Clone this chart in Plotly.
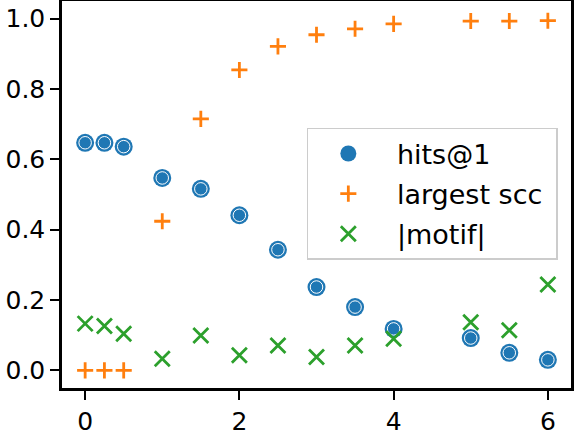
import plotly.graph_objects as go

x_vals = [0, 0.25, 0.5, 1.0, 1.5, 2.0, 2.5, 3.0, 3.5, 4.0, 5.0, 5.5, 6.0]
hits_at_1 = [0.647, 0.647, 0.636, 0.547, 0.516, 0.441, 0.343, 0.237, 0.180, 0.118, 0.092, 0.050, 0.030]
largest_scc = [0.0, 0.0, 0.0, 0.424, 0.715, 0.854, 0.921, 0.954, 0.971, 0.985, 0.993, 0.993, 0.994]
motif_size = [0.133, 0.126, 0.104, 0.033, 0.099, 0.043, 0.071, 0.038, 0.071, 0.090, 0.137, 0.114, 0.244]
x_ticks = [0, 2, 4, 6]
y_ticks = [0.0, 0.2, 0.4, 0.6, 0.8, 1.0]
y_tick_labels = ["0.0", "0.2", "0.4", "0.6", "0.8", "1.0"]
series_names = ["hits@1", "largest scc", "|motif|"]

BLUE = "#1f77b4"
ORANGE = "#ff7f0e"
GREEN = "#2ca02c"
PAD = "\u00a0"

fig = go.Figure()
fig.add_trace(go.Scatter(
    x=x_vals, y=hits_at_1, mode="markers", name=PAD + series_names[0], legendgroup="a",
    marker=dict(symbol="circle", size=18, color=BLUE, line=dict(width=0)),
))
fig.add_trace(go.Scatter(
    x=x_vals, y=hits_at_1, mode="markers", showlegend=False, legendgroup="a",
    marker=dict(symbol="circle-open", size=12.5, color="white", line=dict(width=1.0, color="white")),
    hoverinfo="skip",
))
fig.add_trace(go.Scatter(
    x=x_vals, y=largest_scc, mode="markers", name=PAD + series_names[1] + PAD, legendgroup="b",
    marker=dict(symbol="cross-thin", size=11.5, color=ORANGE, line=dict(width=2.8, color=ORANGE)),
))
fig.add_trace(go.Scatter(
    x=x_vals, y=motif_size, mode="markers", name=PAD + series_names[2], legendgroup="c",
    marker=dict(symbol="x-thin", size=15, color=GREEN, line=dict(width=2.8, color=GREEN)),
))

axis_common = dict(
    showgrid=False, zeroline=False, showline=True, linecolor="black", linewidth=2.5,
    mirror=True, ticks="outside", ticklen=9, tickwidth=2, tickcolor="black",
    automargin=False,
    tickfont=dict(family="DejaVu Sans", size=25, color="black"),
)

fig.update_layout(
    width=574, height=430,
    margin=dict(l=62, r=3, t=1, b=42),
    paper_bgcolor="white", plot_bgcolor="white",
    xaxis=dict(range=[-0.3, 6.3], tickvals=x_ticks, ticktext=[str(t) for t in x_ticks], **axis_common),
    yaxis=dict(range=[-0.05, 1.05], tickvals=y_ticks, ticktext=y_tick_labels, **axis_common),
    legend=dict(
        x=0.481, y=0.672, xanchor="left", yanchor="top",
        bgcolor="rgba(255,255,255,0.8)", bordercolor="#cccccc", borderwidth=1.5,
        font=dict(family="DejaVu Sans", size=27, color="black"),
        tracegroupgap=2, traceorder="grouped", itemwidth=70,
    ),
    showlegend=True,
)

fig.write_html(
    "out.html",
    config={"displayModeBar": False},
    post_script="document.body.style.margin='0';document.body.style.overflow='hidden';",
)
